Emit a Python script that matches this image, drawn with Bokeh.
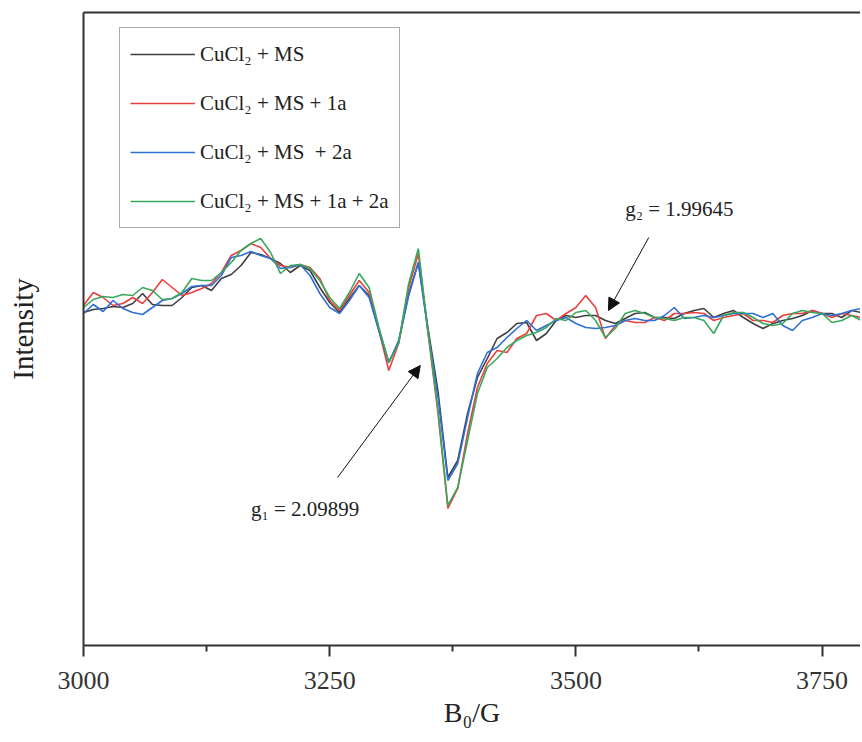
from bokeh.plotting import figure
from bokeh.models import (Range1d, FixedTicker, LinearAxis, Legend, LegendItem,
                          Label, Arrow, NormalHead)
from bokeh.embed import file_html
from bokeh.resources import INLINE

# Magnetic field B0 (G), sampled every 10 G
field = list(range(3000, 3800, 10))

cucl2_ms = [
    6, 9, 10, 12, 11, 15, 25, 14, 13, 13,
    21, 31, 33, 28, 40, 44, 53, 66, 64, 60,
    55, 46, 53, 48, 31, 16, 6, 20, 33, 23,
    -12, -44, -24, 24, 56, -11, -73, -159, -142, -95,
    -59, -40, -20, -14, -5, -4, -22, -15, -2, 3,
    1, 3, 3, -2, -5, 0, 5, 6, 1, 1,
    0, 5, 8, 10, 1, 5, 8, 1, -5, -10,
    -5, -2, 0, 3, 8, 5, 5, 1, 8, 6,
]
cucl2_ms_1a = [
    13, 26, 21, 13, 15, 21, 15, 26, 39, 31,
    23, 26, 30, 35, 46, 63, 68, 75, 71, 60,
    53, 51, 54, 51, 40, 18, 8, 23, 38, 26,
    -12, -52, -25, 30, 65, -16, -95, -190, -170, -115,
    -69, -45, -32, -34, -20, -15, 3, 5, -2, 5,
    11, 23, 11, -20, -7, -2, -4, -4, 1, -2,
    5, 5, 6, 5, -2, 1, 3, 5, -2, -2,
    -4, 3, 5, 5, 8, 5, 1, 5, 3, 1,
]
cucl2_ms_2a = [
    5, 14, 7, 18, 10, 6, 4, 11, 18, 20,
    25, 32, 33, 33, 43, 61, 63, 67, 63, 60,
    50, 51, 54, 43, 25, 11, 5, 18, 33, 21,
    -12, -44, -22, 22, 56, -14, -79, -162, -145, -99,
    -55, -34, -29, -19, -10, -2, -12, -7, -2, 1,
    -5, -9, -10, -9, -7, -2, 0, -2, -2, 3,
    11, 0, 1, 3, 1, 3, 5, 5, 5, 1,
    5, -7, -12, -2, 1, 5, 3, 5, 8, 10,
]
cucl2_ms_1a_2a = [
    11, 19, 22, 21, 24, 23, 31, 28, 19, 20,
    26, 40, 38, 38, 46, 56, 68, 75, 80, 66,
    45, 53, 54, 50, 38, 21, 10, 26, 45, 31,
    -9, -44, -25, 34, 70, -14, -92, -187, -169, -122,
    -75, -49, -40, -29, -22, -17, -14, -9, 0, -2,
    6, 8, -2, -19, -10, 5, 8, 5, 1, 0,
    -2, 1, 1, -2, -15, 3, 6, 6, 1, -5,
    -7, -5, 5, 8, 6, 5, -4, -2, 3, -2,
]

series_labels = ["CuCl\u2082 + MS", "CuCl\u2082 + MS + 1a",
                 "CuCl\u2082 + MS  + 2a", "CuCl\u2082 + MS + 1a + 2a"]
series_colors = ["#3f3f3f", "#e8403f", "#2e6fd8", "#3aa85c"]
major_ticks = [3000, 3250, 3500, 3750]
minor_ticks = [3125, 3375, 3625]
g1_text = "g\u2081 = 2.09899"
g2_text = "g\u2082 = 1.99645"

FONT = "Liberation Serif"
AX = "#333333"

p = figure(width=860, height=740, output_backend="svg", toolbar_location=None,
           x_range=Range1d(3000, 3789), y_range=Range1d(-327, 306),
           min_border_left=83, min_border_right=0, min_border_top=12,
           min_border_bottom=95)
p.xgrid.grid_line_color = None
p.ygrid.grid_line_color = None
p.outline_line_color = None
p.background_fill_color = "white"
p.border_fill_color = "white"

xa = p.xaxis[0]
xa.ticker = FixedTicker(ticks=major_ticks, minor_ticks=minor_ticks)
xa.axis_line_width = 2
xa.axis_line_color = AX
xa.major_tick_line_width = 2
xa.major_tick_line_color = AX
xa.minor_tick_line_width = 2
xa.minor_tick_line_color = AX
xa.major_tick_in = 0
xa.major_tick_out = 11
xa.minor_tick_in = 0
xa.minor_tick_out = 6
xa.major_label_text_font = FONT
xa.major_label_text_font_size = "26px"
xa.major_label_text_color = "#333333"
xa.major_label_standoff = 15
xa.axis_label = "B\u2080/G"
xa.axis_label_text_font = FONT
xa.axis_label_text_font_size = "28px"
xa.axis_label_text_font_style = "normal"
xa.axis_label_text_color = "#222222"
xa.axis_label_standoff = 5

ya = p.yaxis[0]
ya.ticker = FixedTicker(ticks=[])
ya.axis_line_width = 2
ya.axis_line_color = AX
ya.major_tick_out = 0
ya.minor_tick_out = 0
ya.axis_label = "Intensity"
ya.axis_label_text_font = FONT
ya.axis_label_text_font_size = "29px"
ya.axis_label_text_font_style = "normal"
ya.axis_label_text_color = "#222222"
ya.axis_label_standoff = 45

top = LinearAxis(ticker=FixedTicker(ticks=[]), major_tick_out=0, minor_tick_out=0,
                 axis_line_width=2, axis_line_color=AX,
                 major_label_text_font_size="0px")
p.add_layout(top, "above")

renderers = []
for ys, c in zip([cucl2_ms, cucl2_ms_1a, cucl2_ms_2a, cucl2_ms_1a_2a], series_colors):
    renderers.append(p.line(field, ys, line_color=c, line_width=1.6))

legend = Legend(
    items=[LegendItem(label=l, renderers=[r]) for l, r in zip(series_labels, renderers)],
    location=(36, 417), glyph_width=65, glyph_height=32, label_height=32,
    spacing=17, padding=10, label_standoff=5, margin=0,
    label_text_font=FONT, label_text_font_size="21px", label_text_color="#222222",
    border_line_color="#555555", border_line_width=1.5,
    background_fill_color="white", background_fill_alpha=1.0,
)
p.add_layout(legend)

p.add_layout(Arrow(end=NormalHead(size=12, fill_color="#111111", line_color="#111111"),
                   x_start=3258, y_start=-159, x_end=3342, y_end=-47,
                   line_color="#111111", line_width=1))
p.add_layout(Arrow(end=NormalHead(size=12, fill_color="#111111", line_color="#111111"),
                   x_start=3574, y_start=81, x_end=3533, y_end=8,
                   line_color="#111111", line_width=1))

p.add_layout(Label(x=3170, y=-190, text=g1_text, text_font=FONT, text_font_size="21px",
                   text_baseline="alphabetic", text_color="#222222"))
p.add_layout(Label(x=3550, y=110, text=g2_text, text_font=FONT, text_font_size="21px",
                   text_baseline="alphabetic", text_color="#222222"))

open("out.html", "w").write(file_html(p, INLINE))
